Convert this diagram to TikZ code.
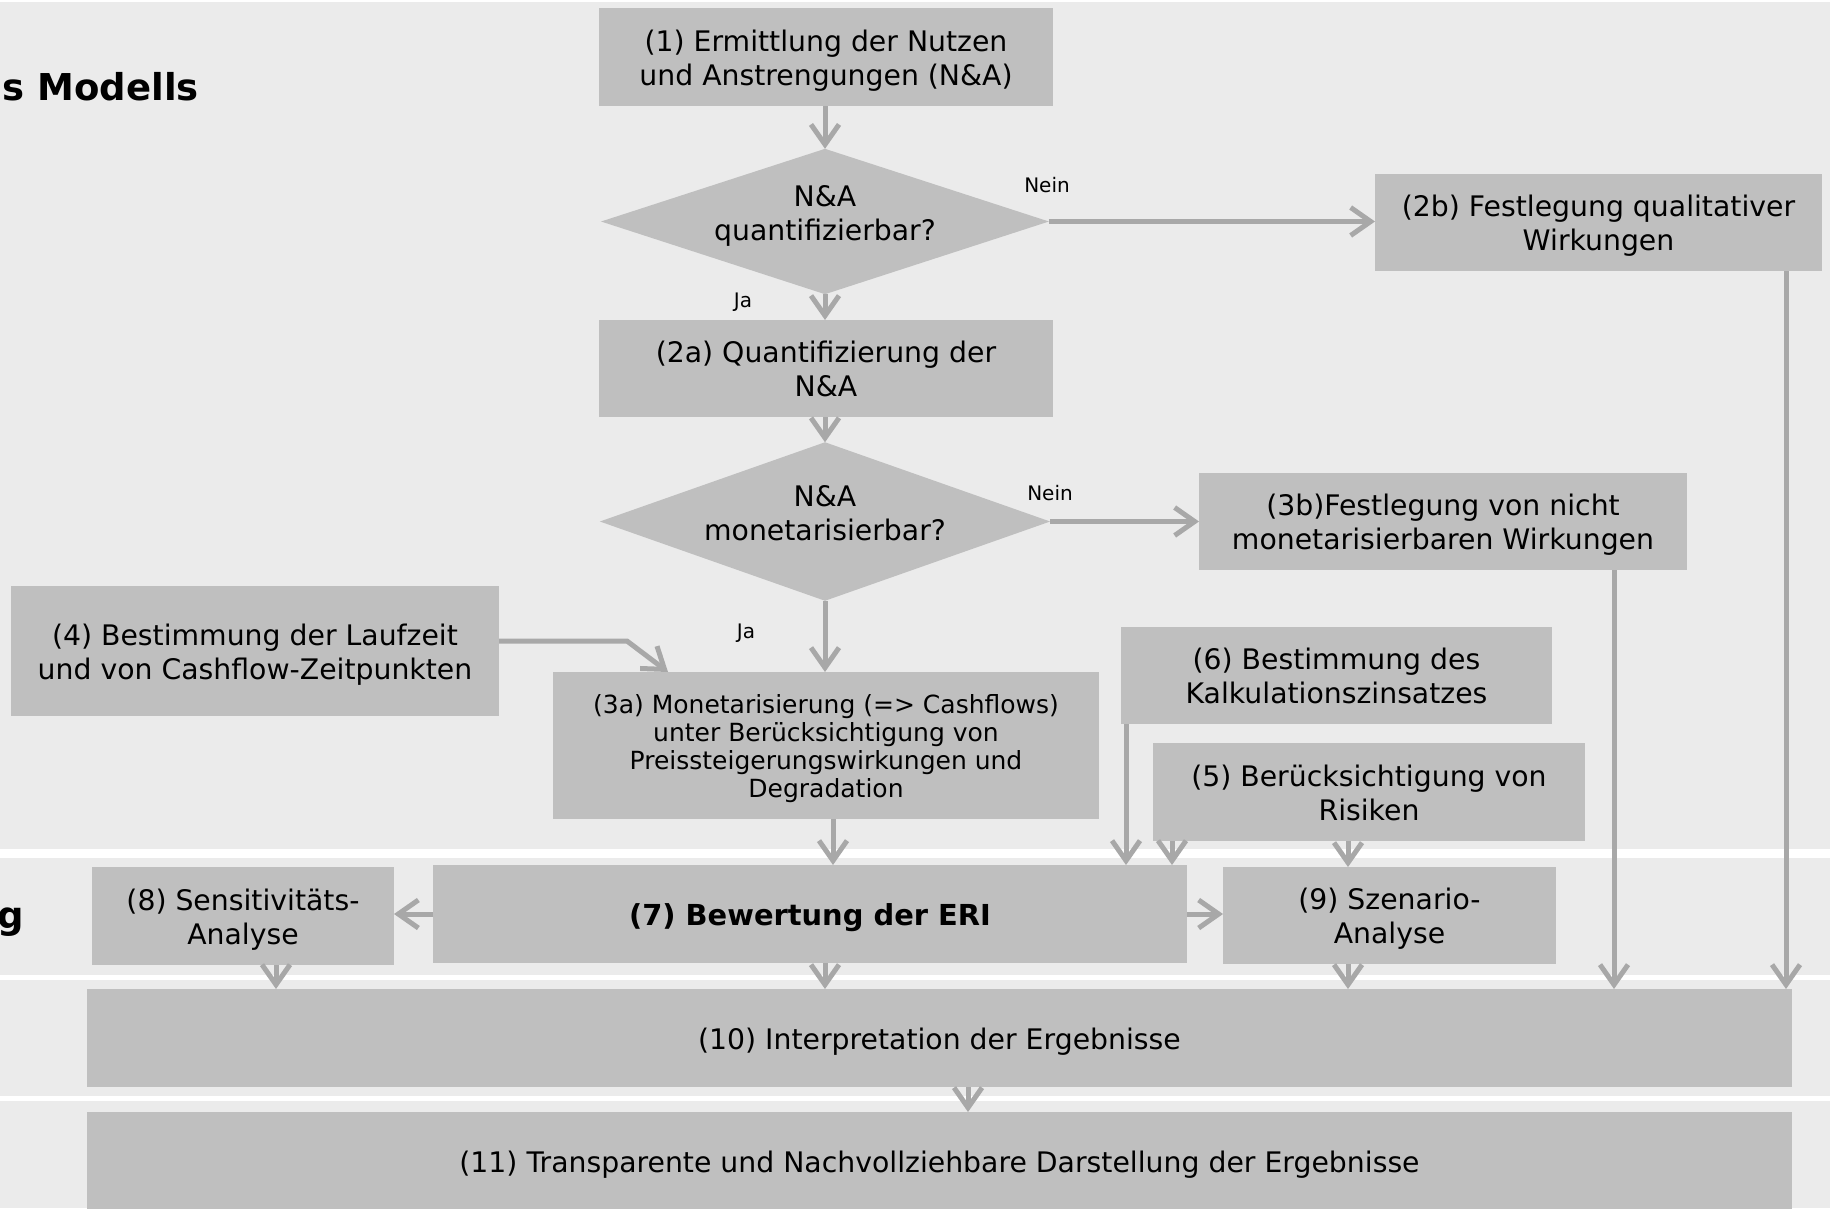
\documentclass[tikz,border=0pt]{standalone}
\usepackage{fontspec}
\setmainfont{DejaVu Sans}
\usetikzlibrary{arrows.meta,shapes.geometric,calc}
\definecolor{bandc}{RGB}{235,235,235}
\definecolor{boxc}{RGB}{191,191,191}
\definecolor{arrc}{RGB}{168,168,168}
\newcommand\Fs{\rule{0pt}{30pt}}
\newcommand\Ls{\rule[-8pt]{0pt}{8pt}}
\newcommand\Fss{\rule{0pt}{27pt}}
\newcommand\Lss{\rule[-7pt]{0pt}{7pt}}
\newcommand\Fd{\rule{0pt}{22pt}}
\newcommand\Ld{\rule[-17.4pt]{0pt}{17.4pt}}
\tikzset{
 box/.style={fill=boxc, inner sep=0pt, outer sep=0pt, align=center, font=\fontsize{28.3}{34}\selectfont},
 smallbox/.style={box, font=\fontsize{25}{28.3}\selectfont},
 dia/.style={diamond, fill=boxc, inner sep=0pt, outer sep=0pt, align=center, font=\fontsize{28.3}{34}\selectfont},
 flow/.style={draw=arrc, line width=5pt, -{Straight Barb[length=20pt,width=28pt]}},
 lbl/.style={font=\fontsize{20}{24}\selectfont, inner sep=0pt, anchor=base},
 band/.style={fill=bandc, draw=none},
 bigtitle/.style={font=\fontsize{37}{44}\bfseries\selectfont, inner sep=0pt, anchor=base east},
}
\begin{document}
\begin{tikzpicture}[x=1pt,y=-1pt]
\useasboundingbox (0,0) rectangle (1830,1208);
\fill[white] (0,0) rectangle (1830,1208);
\fill[band] (0,2) rectangle (1830,849);
\fill[band] (0,858) rectangle (1830,975);
\fill[band] (0,980) rectangle (1830,1096);
\fill[band] (0,1101) rectangle (1830,1208);

\node[bigtitle] (title) at (199,100) {s Modells};
\node[bigtitle] (gl) at (24,928) {g};

\node[box, minimum width=454pt, minimum height=98pt] (b1) at (826,57) {\Fs(1) Ermittlung der Nutzen\\und Anstrengungen (N\&A)\Ls};
\node[dia, minimum width=446pt, minimum height=145pt, aspect=3.08] (d1) at (825,221.5) {\Fd N\&A\\quantifizierbar?\Ld};
\node[box, minimum width=447pt, minimum height=97pt] (b2b) at (1598.5,222.5) {\Fs(2b) Festlegung qualitativer\\Wirkungen\Ls};
\node[box, minimum width=454pt, minimum height=97pt] (b2a) at (826,368.5) {\Fs(2a) Quantifizierung der\\N\&A\Ls};
\node[dia, minimum width=446pt, minimum height=157pt, aspect=2.84] (d2) at (825,521.5) {\Fd N\&A\\monetarisierbar?\Ld};
\node[box, minimum width=488pt, minimum height=97pt] (b3b) at (1443,521.5) {\Fs(3b)Festlegung von nicht\\monetarisierbaren Wirkungen\Ls};
\node[box, minimum width=488pt, minimum height=130pt] (b4) at (255,651) {\Fs(4) Bestimmung der Laufzeit\\und von Cashflow-Zeitpunkten\Ls};
\node[smallbox, minimum width=546pt, minimum height=147pt] (b3a) at (826,745.5) {\Fss(3a) Monetarisierung (=> Cashflows)\\unter Berücksichtigung von\\Preissteigerungswirkungen und\\Degradation\Lss};
\node[box, minimum width=431pt, minimum height=97pt] (b6) at (1336.5,675.5) {\Fs(6) Bestimmung des\\Kalkulationszinsatzes\Ls};
\node[box, minimum width=432pt, minimum height=98pt] (b5) at (1369,792) {\Fs(5) Berücksichtigung von\\Risiken\Ls};
\node[box, minimum width=754pt, minimum height=98pt, font=\fontsize{28.9}{34}\bfseries\selectfont] (b7) at (810,914) {\Fs(7) Bewertung der ERI\Ls};
\node[box, minimum width=333pt, minimum height=97pt] (b9) at (1389.5,915.5) {\Fs(9) Szenario-\\Analyse\Ls};
\node[box, minimum width=302pt, minimum height=98pt] (b8) at (243,916) {\Fs(8) Sensitivitäts-\\Analyse\Ls};
\node[box, minimum width=1705pt, minimum height=98pt] (b10) at (939.5,1038) {\Fs(10) Interpretation der Ergebnisse\Ls};
\node[box, minimum width=1705pt, minimum height=98pt] (b11) at (939.5,1161) {\Fs(11) Transparente und Nachvollziehbare Darstellung der Ergebnisse\Ls};

\node[lbl] (nein1) at (1047,192) {Nein};
\node[lbl] (nein2) at (1050,500) {Nein};
\node[lbl] (ja1) at (743,307) {Ja};
\node[lbl] (ja2) at (746,638) {Ja};

\draw[flow] (b1.south -| d1.north) -- (d1.north);
\draw[flow] (d1.south) -- (d1.south |- b2a.north);
\draw[flow] (d1.east) -- (d1.east -| b2b.west);
\draw[flow] (b2a.south -| d2.north) -- (d2.north);
\draw[flow] (d2.east) -- (d2.east -| b3b.west);
\draw[flow] (d2.south) -- (d2.south |- b3a.north);

\coordinate (c4) at ([yshift=10pt]b4.east);
\coordinate (c4e) at ([xshift=-158pt]b3a.north);
\draw[flow] (c4) -- ++(128,0) -- (c4e);

\coordinate (c3a) at ([xshift=7pt]b3a.south);
\draw[flow] (c3a) -- (c3a |- b7.north);
\coordinate (c6) at ([xshift=-210.5pt]b6.south);
\draw[flow] (c6) -- (c6 |- b7.north);
\coordinate (c5a) at ([xshift=-197pt]b5.south);
\draw[flow] (c5a) -- (c5a |- b7.north);
\coordinate (c5b) at ([xshift=-21pt]b5.south);
\draw[flow] (c5b) -- (c5b |- b9.north);

\draw[flow] (b7.east) -- (b7.east -| b9.west);
\draw[flow] (b7.west) -- (b7.west -| b8.east);

\coordinate (c8) at ([xshift=33pt]b8.south);
\draw[flow] (c8) -- (c8 |- b10.north);
\coordinate (c7) at ([xshift=15pt]b7.south);
\draw[flow] (c7) -- (c7 |- b10.north);
\coordinate (c9) at ([xshift=-41.5pt]b9.south);
\draw[flow] (c9) -- (c9 |- b10.north);
\coordinate (c3b) at ([xshift=171pt]b3b.south);
\draw[flow] (c3b) -- (c3b |- b10.north);
\coordinate (c2b) at ([xshift=187.5pt]b2b.south);
\draw[flow] (c2b) -- (c2b |- b10.north);
\coordinate (c10) at ([xshift=28.5pt]b10.south);
\draw[flow] (c10) -- (c10 |- b11.north);
\end{tikzpicture}
\end{document}
